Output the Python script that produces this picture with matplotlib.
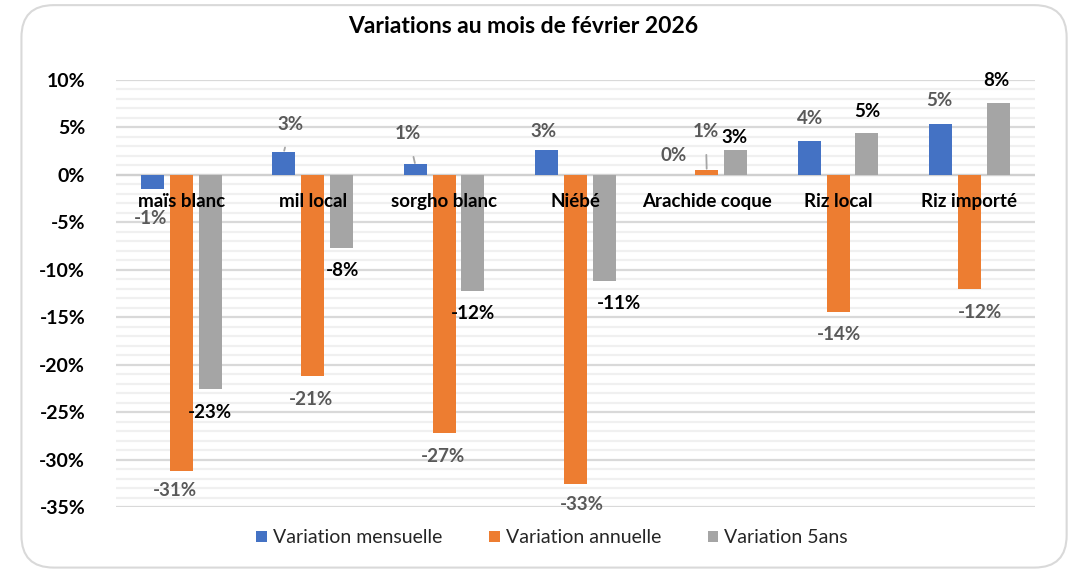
import matplotlib
matplotlib.use("Agg")
import matplotlib.pyplot as plt
from matplotlib.patches import FancyBboxPatch
from matplotlib.ticker import MultipleLocator, FuncFormatter
import numpy as np

plt.rcParams['font.family'] = ['Lato', 'DejaVu Sans']

categories = ["maïs blanc", "mil local", "sorgho blanc", "Niébé", "Arachide coque", "Riz local", "Riz importé"]
series_names = ["Variation mensuelle", "Variation annuelle", "Variation 5ans"]
mensuelle = [-1.5, 2.4, 1.1, 2.6, 0.0, 3.6, 5.4]
annuelle = [-31.2, -21.2, -27.2, -32.6, 0.5, -14.4, -12.0]
cinq_ans = [-22.6, -7.7, -12.2, -11.2, 2.6, 4.4, 7.6]
label_mensuelle = ["-1%", "3%", "1%", "3%", "0%", "4%", "5%"]
label_annuelle = ["-31%", "-21%", "-27%", "-33%", "1%", "-14%", "-12%"]
label_cinq = ["-23%", "-8%", "-12%", "-11%", "3%", "5%", "8%"]

colors = ["#4472C4", "#ED7D31", "#A5A5A5"]

fig = plt.figure(figsize=(10.72, 5.71), dpi=100)
border = FancyBboxPatch((0.02, 0.006), 0.975, 0.985, boxstyle="round,pad=0,rounding_size=0.03",
                        transform=fig.transFigure, facecolor="none", edgecolor="#d9d9d9",
                        linewidth=1.5, mutation_aspect=1072/571, zorder=-1)
fig.patches.append(border)

ax = fig.add_axes([0.108, 0.112, 0.8575, 0.748])
ax.set_facecolor("none")

x = np.arange(len(categories))
w = 0.175
off = 0.22
series = [mensuelle, annuelle, cinq_ans]
bars = []
for k, (vals, c, name) in enumerate(zip(series, colors, series_names)):
    b = ax.bar(x + (k - 1) * off, vals, width=w, color=c, label=name, zorder=3)
    bars.append(b)

ax.set_ylim(-35, 10)
ax.set_xlim(-0.5, len(categories) - 0.5)
ax.yaxis.set_major_locator(MultipleLocator(5))
ax.yaxis.set_minor_locator(MultipleLocator(1))
ax.yaxis.set_major_formatter(FuncFormatter(lambda v, p: f"{int(round(v))}%"))
ax.grid(axis='y', which='major', color="#d9d9d9", linewidth=1.6, zorder=0)
ax.grid(axis='y', which='minor', color="#f0f0f0", linewidth=1.6, zorder=0)
ax.axhline(0, color="#d0d0d0", linewidth=1.6, zorder=2)
ax.tick_params(axis='y', which='both', length=0, pad=22, labelsize=14)
for t in ax.get_yticklabels():
    t.set_fontweight('bold')
ax.set_xticks([])
for s in ax.spines.values():
    s.set_visible(False)

# category labels
for i, c in enumerate(categories):
    ax.text(i, -2.8, c, ha='center', va='center', fontsize=13.5, fontweight='bold', color='black', zorder=5)

# value labels: offsets in pixels (dx, dy) and leader flag
off_m = [(-2, -29, False), (7, -28, True), (-7, -31, True), (-3, -19, False), (-4, -19, False), (1, -22, False), (-1, -23, False)]
off_a = [(-6, -20, False), (-2, -23, False), (-1, -23, False), (6, -20, False), (-1, -39, True), (1, -23, False), (11, -24, False)]
off_c = [(0, -23, False), (1, -23, False), (0, -23, False), (15, -22, False), (-1, -13, False), (0, -22, False), (-2, -22, False)]

def put_labels(barset, vals, labels, offs, color, weight, size):
    for b, v, lab, (dx, dy, leader) in zip(barset, vals, labels, offs):
        xc = b.get_x() + b.get_width() / 2
        dy_px = -dy if v >= 0 else dy
        kw = dict(xy=(xc, v), xytext=(dx, dy_px), textcoords='offset pixels',
                  ha='center', va='center', fontsize=size, color=color, fontweight=weight, zorder=6)
        if leader:
            kw['arrowprops'] = dict(arrowstyle='-', color='#a6a6a6', lw=1.3, shrinkA=9, shrinkB=1)
        ax.annotate(lab, **kw)

put_labels(bars[0], mensuelle, label_mensuelle, off_m, "#595959", 'bold', 13.5)
put_labels(bars[1], annuelle, label_annuelle, off_a, "#595959", 'bold', 13.5)
put_labels(bars[2], cinq_ans, label_cinq, off_c, "black", 'bold', 13.5)

fig.text(0.488, 0.953, "Variations au mois de février 2026", ha='center', va='center',
         fontsize=16.5, fontweight='bold', color='black')

leg = fig.legend(handles=bars, labels=series_names, loc='center', bbox_to_anchor=(0.515, 0.058),
                 ncol=3, frameon=False, fontsize=14, handlelength=0.55, handleheight=0.55,
                 handletextpad=0.3, columnspacing=2.4)
for t in leg.get_texts():
    t.set_color("#262626")

fig.savefig("out.png", dpi=100)
